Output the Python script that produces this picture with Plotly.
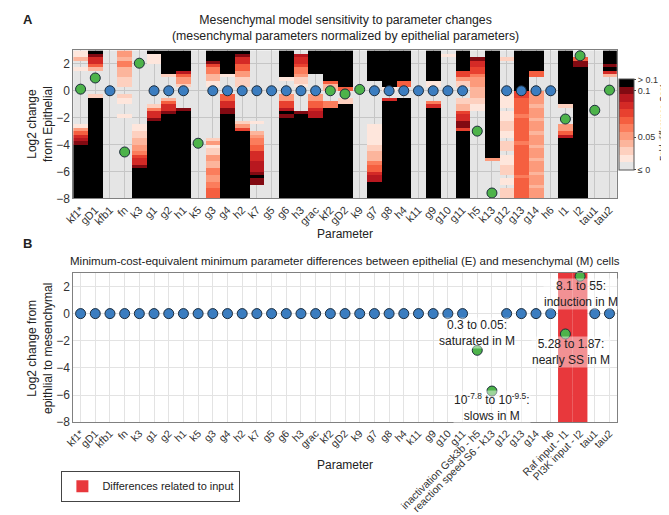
import numpy as np
import plotly.graph_objects as go

# ---------------- data ----------------
params = ["kf1*", "gD1", "kfb1", "fn", "k3", "g1", "g2", "h1", "k5", "g3", "g4", "h2", "k7",
          "g5", "g6", "h3", "grac", "kf2", "gD2", "k9", "g7", "g8", "h4", "k11", "g9", "g10",
          "g11", "h5", "k13", "g12", "g13", "g14", "h6", "l1", "l2", "tau1", "tau2"]

params_B = list(params)
params_B[27] = "inactivation Gsk3b - h5"
params_B[28] = "reaction speed S6 - k13"
params_B[33] = "Raf input - l1"
params_B[34] = "PI3K input - l2"

# Panel A: log2 change of mesenchymal parameter vs epithelial
epi_change_A = [0.12, 0.95, 0, -4.55, 2.05, 0, 0, 0, -3.9, 0, 0, 0, 0, 0, 0, 0, 0, 0.0, -0.24,
                0.1, 0, 0, 0, 0, 0, 0, 0, -3.0, -7.6, 0, 0, 0, 0, -2.1, 2.6, -1.45, 0.05]
changed_A = [1, 1, 0, 1, 1, 0, 0, 0, 1, 0, 0, 0, 0, 0, 0, 0, 0, 1, 1,
             1, 0, 0, 0, 0, 0, 0, 0, 1, 1, 0, 0, 0, 0, 1, 1, 1, 1]

# Panel B: minimum parameter differences
min_change_B = [0] * 27 + [-2.7, -5.7] + [0] * 4 + [-1.5, 2.75] + [0, 0]
changed_B = [0] * 27 + [1, 1] + [0] * 4 + [1, 1] + [0, 0]

input_params = ["l1", "l2"]
input_span = [-8, 3]

# cost bands per parameter: (log2 low, log2 high, colour level 0..11)
cost_bands = [
    [(2.6, 3, 1), (2.25, 2.6, 3), (1.4, 1.85, 1), (-2.75, -2.4, 1), (-3.0, -2.75, 4), (-3.25, -3.0, 6),
     (-3.5, -3.25, 8), (-3.75, -3.5, 9), (-4.1, -3.75, 10), (-8, -4.1, 11)],
    [(2.75, 3, 11), (2.5, 2.75, 10), (2.1, 2.5, 8), (1.75, 2.1, 6), (1.5, 1.75, 3), (-0.45, -0.2, 2), (-8, -0.45, 11)],
    [],
    [(2.6, 3, 4), (2.25, 2.6, 3), (1.75, 2.25, 5), (0.9, 1.75, 3), (0.25, 0.9, 2), (-0.5, -0.2, 2),
     (-1.0, -0.5, 1), (-1.9, -1.65, 1)],
    [(-3.0, -2.4, 1), (-3.5, -3.0, 2), (-4.0, -3.5, 3), (-4.5, -4.0, 4), (-4.75, -4.5, 5), (-5.0, -4.75, 7),
     (-5.5, -5.0, 8), (-5.75, -5.5, 10), (-8, -5.75, 11)],
    [(2.75, 3, 11), (2.0, 2.75, 1), (-1.15, -0.9, 2), (-1.5, -1.15, 5), (-1.9, -1.5, 8), (-2.15, -1.9, 10), (-8, -2.15, 11)],
    [(1.3, 3, 11), (1.05, 1.3, 2), (-0.7, -0.45, 3), (-0.95, -0.7, 6), (-1.4, -0.95, 8), (-1.65, -1.4, 10), (-8, -1.65, 11)],
    [(1.5, 3, 11), (1.25, 1.5, 9), (0.9, 1.25, 6), (0.55, 0.9, 4), (0.3, 0.55, 2), (-1.4, -1.15, 10), (-8, -1.4, 11)],
    [],
    [(2.25, 3, 11), (2.0, 2.25, 10), (1.65, 2.0, 7), (1.25, 1.65, 5), (0.8, 1.25, 3), (0.35, 0.8, 1),
     (-3.75, -3.4, 2), (-4.0, -3.75, 4), (-4.25, -4.0, 1), (-4.75, -4.25, 2), (-5.25, -4.75, 4),
     (-5.75, -5.25, 3), (-6.25, -5.75, 5), (-6.75, -6.25, 4), (-7.25, -6.75, 5), (-8, -7.25, 6)],
    [(1.25, 3, 11), (1.0, 1.25, 1), (-0.8, -0.35, 6), (-1.15, -0.8, 8), (-1.65, -1.15, 10), (-8, -1.65, 11)],
    [(2.75, 3, 11), (2.4, 2.75, 10), (1.9, 2.4, 8), (1.5, 1.9, 6), (1.0, 1.5, 4), (0.35, 1.0, 2),
     (-2.5, -2.25, 2), (-2.85, -2.5, 4), (-3.1, -2.85, 7), (-8, -3.1, 11)],
    [(-2.4, -2.15, 1), (-3.25, -2.9, 3), (-3.6, -3.25, 4), (-4.1, -3.6, 5), (-4.6, -4.1, 6), (-5.3, -4.6, 8),
     (-6.0, -5.3, 9), (-6.25, -6.0, 10), (-6.5, -6.25, 11), (-6.9, -6.6, 10)],
    [],
    [(1.1, 3, 11), (0.85, 1.1, 1), (-0.7, -0.35, 4), (-1.15, -0.7, 7), (-1.4, -1.15, 9), (-1.7, -1.4, 11),
     (-2.1, -1.7, 10), (-8, -2.1, 11)],
    [(2.5, 2.75, 9), (2.1, 2.5, 8), (1.65, 2.1, 7), (1.25, 1.65, 5), (0.9, 1.25, 4), (0.4, 0.9, 2),
     (0.15, 0.4, 1), (-1.75, -1.4, 10), (-8, -1.75, 11)],
    [(1.25, 3, 11), (-0.65, -0.3, 4), (-1.15, -0.65, 6), (-1.5, -1.15, 8), (-1.9, -1.5, 9), (-8, -1.9, 11)],
    [(0.8, 3, 11), (0.4, 0.8, 6), (0.1, 0.4, 3), (-1.15, -0.8, 5), (-8, -1.15, 11)],
    [(0.2, 3, 11), (-0.05, 0.2, 6), (-0.9, -0.55, 2), (-8, -0.9, 11)],
    [],
    [(0.8, 3, 11), (-3.9, -2.4, 1), (-4.6, -3.9, 2), (-5.3, -4.6, 3), (-5.6, -5.3, 5), (-5.9, -5.6, 6),
     (-6.3, -5.9, 8), (-6.8, -6.3, 9), (-8, -6.8, 11)],
    [(0.3, 3, 11), (0.05, 0.3, 1), (-0.7, -0.4, 8), (-8, -0.7, 11)],
    [(0.8, 3, 11), (0.3, 0.8, 6), (-8, -0.45, 11)],
    [],
    [(0.8, 3, 11), (0.3, 0.8, 1), (-0.95, -0.7, 5), (-1.15, -0.95, 8), (-8, -1.15, 11)],
    [(2.5, 2.75, 1)],
    [(1.4, 3, 11), (1.0, 1.4, 7), (0.65, 1.0, 4), (0.3, 0.65, 2), (-0.95, -0.5, 2), (-1.4, -0.95, 3),
     (-1.75, -1.4, 7), (-2.25, -1.75, 8), (-2.65, -2.25, 10), (-2.9, -2.65, 7), (-8, -2.9, 11)],
    [(2.15, 2.5, 10), (1.65, 2.15, 8), (1.25, 1.65, 7), (0.9, 1.25, 5), (0.15, 0.9, 4), (-0.45, 0.15, 3),
     (-0.9, -0.45, 2), (-1.4, -0.9, 1)],
    [(-4.9, 3, 11), (-5.1, -4.9, 10), (-5.3, -5.1, 4)],
    [(2.25, 2.5, 2), (-1.25, -0.25, 1), (-2.25, -1.5, 1), (-3.0, -2.25, 2), (-3.5, -3.0, 1), (-4.5, -3.75, 2),
     (-5.5, -4.75, 1), (-6.25, -5.5, 2), (-7.0, -6.5, 1), (-8, -7.25, 2)],
    [(0.0, 3, 11), (-0.5, -0.1, 7), (-8, -0.5, 6), (-2.0, -1.75, 5), (-4.0, -3.75, 5), (-6.5, -6.25, 5)],
    [(1.4, 3, 11), (1.0, 1.4, 6), (-8, -0.1, 4), (-1.25, -1.0, 3), (-2.25, -2.0, 3), (-3.25, -3.0, 3),
     (-4.25, -4.0, 3), (-5.25, -5.0, 3), (-6.25, -6.0, 3), (-7.25, -7.0, 3)],
    [],
    [(-0.95, 3, 11), (-1.2, -0.95, 2), (-2.9, -2.4, 4), (-3.2, -2.9, 6), (-3.5, -3.2, 9), (-8, -3.5, 11)],
    [(2.15, 2.5, 6), (1.8, 2.15, 10), (-8, 1.8, 11)],
    [],
    [(2.1, 3, 11), (1.85, 2.1, 10), (1.55, 1.85, 11), (1.3, 1.55, 8), (1.05, 1.3, 3)],
]

level_colors = ["#e5e5e5", "#fee6dc", "#fdd0bf", "#fcb59c", "#fc9a7b", "#fb7d5c", "#f55f40",
                "#e8412f", "#d42a26", "#b8181f", "#820a12", "#000000"]
cbar_tickvals = [-0.42, 3.88, 10.0, 11.42]
cbar_ticktext = ["≤ 0", "0.05", "0.1", "> 0.1"]

# ---------------- build ----------------
FONT = "Arial, Liberation Sans, sans-serif"
ncol = len(params)
xs = list(range(ncol))
y_centers = np.arange(-8, 3, 0.25) + 0.125
z = np.full((len(y_centers), ncol), np.nan)
for i, bands in enumerate(cost_bands):
    for lo, hi, lev in bands:
        m = (y_centers >= lo) & (y_centers < hi)
        z[m, i] = lev
z[z == 0] = np.nan
zlist = [[None if np.isnan(v) else float(v) for v in row] for row in z]

nlev = len(level_colors)
cscale = []
for k, c in enumerate(level_colors):
    cscale.append([k / nlev, c])
    cscale.append([(k + 1) / nlev, c])

fig = go.Figure()
fig.add_trace(go.Heatmap(
    x=xs, y=list(y_centers), z=zlist, colorscale=cscale, zmin=-0.5, zmax=nlev - 0.5,
    xaxis="x", yaxis="y", hoverongaps=False,
    colorbar=dict(x=610 / 669, xanchor="left", xpad=0, y=1 - 118.5 / 515, yanchor="middle",
                  len=113 / 515, lenmode="fraction", thickness=15,
                  outlinecolor="#555", outlinewidth=1,
                  tickvals=cbar_tickvals, ticktext=cbar_ticktext, ticks="outside", ticklen=2,
                  tickfont=dict(size=9, family=FONT, color="#333")),
    showlegend=False))

blue, green = "#3b7dc0", "#4db34a"
for flag, col in [(0, blue), (1, green)]:
    idx = [i for i in xs if changed_A[i] == flag]
    fig.add_trace(go.Scatter(x=idx, y=[epi_change_A[i] for i in idx], mode="markers",
                             marker=dict(size=10, color=col, line=dict(color="#1c2b3a", width=1)),
                             xaxis="x", yaxis="y", showlegend=False, cliponaxis=False))

# Panel B input band
in_idx = [params.index(p) for p in input_params]
fig.add_trace(go.Bar(x=in_idx, y=[input_span[1] - input_span[0]] * len(in_idx),
                     base=[input_span[0]] * len(in_idx), width=1,
                     marker=dict(color="#e8383c", line=dict(width=0)),
                     name="Differences related to input", xaxis="x2", yaxis="y2", showlegend=True))

for flag, col in [(0, blue), (1, green)]:
    idx = [i for i in xs if changed_B[i] == flag]
    fig.add_trace(go.Scatter(x=idx, y=[min_change_B[i] for i in idx], mode="markers",
                             marker=dict(size=10, color=col, line=dict(color="#1c2b3a", width=1)),
                             xaxis="x2", yaxis="y2", showlegend=False, cliponaxis=False))

xdom = [57 / 669, 608 / 669]
axis_common = dict(showline=True, mirror=True, linecolor="#808080", linewidth=1, zeroline=False,
                   ticks="")
yt = dict(size=12, family=FONT, color="#333")
fig.update_layout(
    width=669, height=515, margin=dict(l=0, r=0, t=0, b=0),
    paper_bgcolor="white", plot_bgcolor="white",
    font=dict(family=FONT, color="#222"),
    barmode="overlay",
    xaxis=dict(domain=xdom, anchor="y", range=[-0.5, ncol - 0.5], tickvals=xs, ticktext=params,
               tickangle=-45, showgrid=True, gridcolor="#c6c6c6",
               tickfont=dict(size=11, family=FONT, color="#333"), **axis_common),
    yaxis=dict(domain=[1 - 193 / 515, 1 - 43 / 515], anchor="x", range=[-8, 3],
               tickvals=[-8, -6, -4, -2, 0, 2], showgrid=True, gridcolor="#c6c6c6",
               tickfont=yt, **axis_common),
    xaxis2=dict(domain=xdom, anchor="y2", range=[-0.5, ncol - 0.5], tickvals=xs, ticktext=params_B,
                tickangle=-45, showgrid=True, gridcolor="#e3e3e3",
                tickfont=dict(size=10.5, family=FONT, color="#333"), **axis_common),
    yaxis2=dict(domain=[1 - 420 / 515, 1 - 268.5 / 515], anchor="x2", range=[-8, 3],
                tickvals=[-8, -6, -4, -2, 0, 2], showgrid=True, gridcolor="#e3e3e3",
                tickfont=yt, **axis_common),
    legend=dict(x=45 / 669, y=1 - 469 / 515, xanchor="left", yanchor="top",
                bordercolor="#444", borderwidth=1, bgcolor="white",
                font=dict(size=11, family=FONT, color="#222")),
    shapes=[dict(type="rect", xref="x domain", yref="y domain", x0=0, x1=1, y0=0, y1=1,
                 fillcolor="#e5e5e5", line=dict(width=0), layer="below")],
)

def ann(text, x, y, size=11.5, angle=0, bold=False, **kw):
    t = f"<b>{text}</b>" if bold else text
    fig.add_annotation(text=t, x=x / 669, y=1 - y / 515, xref="paper", yref="paper",
                       showarrow=False, textangle=angle, font=dict(size=size, family=FONT, color="#222"),
                       xanchor="center", yanchor="middle", **kw)

ann("A", 11, 12, size=13, bold=True)
ann("B", 11, 239, size=13, bold=True)
ann("Mesenchymal model sensitivity to parameter changes<br>(mesenchymal parameters normalized by epithelial parameters)",
    332.5, 20, size=12.3)
ann("Minimum-cost-equivalent minimum parameter differences between epithelial (E) and mesenchymal (M) cells",
    332.5, 256)
ann("Parameter", 332.5, 229, size=12)
ann("Parameter", 332.5, 463, size=12)
ann("Log2 change<br>from Epithelial", 24, 118, size=12, angle=-90)
ann("Log2 change from<br>epithlial to mesenchymal", 24, 345, size=12, angle=-90)
ann("Fold-difference Cost", 655.5, 116, size=8.5, angle=-90)

notes = [("8.1 to 55:<br>induction in M", 34.06, 1.44),
         ("5.28 to 1.87:<br>nearly SS in M", 33.37, -2.8),
         ("0.3 to 0.05:<br>saturated in M", 27.0, -1.44),
         ("10<sup>-7.8</sup> to 10<sup>-9.5</sup>:<br>slows in M", 28.0, -6.9)]
for t, x, y in notes:
    fig.add_annotation(text=t, x=x, y=y, xref="x2", yref="y2", showarrow=False,
                       font=dict(size=12, family=FONT, color="#222"),
                       bgcolor="rgba(255,255,255,0.45)", borderpad=0)

fig.write_html("out.html")
